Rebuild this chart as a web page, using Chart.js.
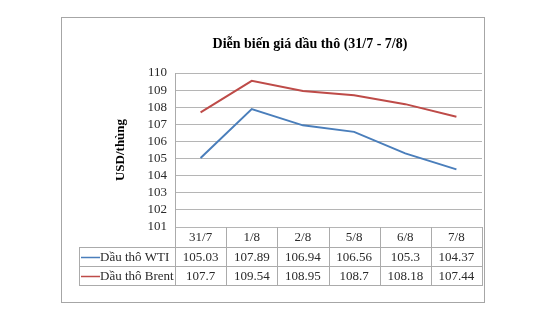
<!DOCTYPE html>
<html>
<head>
<meta charset="utf-8">
<script src="https://cdn.jsdelivr.net/npm/chart.js@4/dist/chart.umd.min.js"></script>
<style>
  html, body { margin: 0; padding: 0; background: #ffffff; }
  canvas { display: block; }
</style>
</head>
<body>
<canvas id="c" width="540" height="335"></canvas>
<script>
const chartTitle = 'Diễn biến giá dầu thô (31/7 - 7/8)';
const yAxisTitle = 'USD/thùng';
const categories = ['31/7', '1/8', '2/8', '5/8', '6/8', '7/8'];
const seriesNames = ['Dầu thô WTI', 'Dầu thô Brent'];
const wtiValues = [105.03, 107.89, 106.94, 106.56, 105.3, 104.37];
const brentValues = [107.7, 109.54, 108.95, 108.7, 108.18, 107.44];
const yMin = 101;
const yMax = 110;
const yStep = 1;

const seriesColors = ['#4A7EBB', '#BE4B48'];
const seriesValues = [wtiValues, brentValues];
const FONT = '"Liberation Serif", "Times New Roman", serif';
const lineGray = '#ababab';
const textColor = '#2a2a2a';

const tablePlugin = {
  id: 'tablePlugin',
  beforeDraw(chart) {
    const ctx = chart.ctx;
    ctx.save();
    ctx.fillStyle = '#ffffff';
    ctx.fillRect(0, 0, chart.width, chart.height);
    ctx.restore();
  },
  afterDraw(chart) {
    const ctx = chart.ctx;
    const area = chart.chartArea;
    const xs = chart.scales.x;
    const n = categories.length;
    const colW = (area.right - area.left) / n;
    const headerTop = area.bottom;
    const rowH = [20, 19, 19];
    const row1Top = headerTop + rowH[0];
    const row2Top = row1Top + rowH[1];
    const tableBottom = row2Top + rowH[2];
    const legendLeft = 79;

    ctx.save();
    // outer border
    ctx.strokeStyle = '#a6a6a6';
    ctx.lineWidth = 1;
    ctx.strokeRect(61.5, 17.5, 423, 285);

    // title
    ctx.fillStyle = '#000000';
    ctx.font = 'bold 14px ' + FONT;
    ctx.textAlign = 'center';
    ctx.textBaseline = 'middle';
    ctx.fillText(chartTitle, 310, 44);

    // table lines
    ctx.strokeStyle = lineGray;
    ctx.lineWidth = 1;
    const hl = (x1, x2, y) => { ctx.beginPath(); ctx.moveTo(x1, Math.round(y) + 0.5); ctx.lineTo(x2, Math.round(y) + 0.5); ctx.stroke(); };
    const vl = (x, y1, y2) => { ctx.beginPath(); ctx.moveTo(Math.round(x) + 0.5, y1); ctx.lineTo(Math.round(x) + 0.5, y2); ctx.stroke(); };
    hl(legendLeft, area.right, row1Top);
    hl(legendLeft, area.right, row2Top);
    hl(legendLeft, area.right, tableBottom);
    vl(legendLeft, row1Top, tableBottom + 1);
    for (let i = 0; i <= n; i++) {
      vl(area.left + i * colW, headerTop, tableBottom + 1);
    }

    // header labels
    ctx.fillStyle = textColor;
    ctx.font = '13px ' + FONT;
    ctx.textAlign = 'center';
    ctx.textBaseline = 'middle';
    categories.forEach((c, i) => {
      ctx.fillText(c, xs.getPixelForValue(i), headerTop + rowH[0] / 2 + 1);
    });

    // series rows
    const rowTops = [row1Top, row2Top];
    seriesValues.forEach((vals, s) => {
      const cy = rowTops[s] + rowH[s + 1] / 2 + 1;
      ctx.strokeStyle = seriesColors[s];
      ctx.lineWidth = 1.5;
      ctx.beginPath();
      ctx.moveTo(81, Math.round(cy) - 0.5);
      ctx.lineTo(100, Math.round(cy) - 0.5);
      ctx.stroke();
      ctx.fillStyle = textColor;
      ctx.textAlign = 'left';
      ctx.fillText(seriesNames[s], 100, cy);
      ctx.textAlign = 'center';
      vals.forEach((v, i) => {
        ctx.fillText(String(v), xs.getPixelForValue(i), cy);
      });
    });
    ctx.restore();
  }
};

new Chart(document.getElementById('c'), {
  type: 'line',
  data: {
    labels: categories,
    datasets: seriesNames.map((name, s) => ({
      label: name,
      data: seriesValues[s],
      borderColor: seriesColors[s],
      backgroundColor: seriesColors[s],
      borderWidth: 2,
      pointRadius: 0,
      pointHoverRadius: 0,
      tension: 0,
      fill: false
    }))
  },
  options: {
    responsive: false,
    animation: false,
    devicePixelRatio: 1,
    layout: { padding: { left: 62, right: 58, top: 73, bottom: 108 } },
    plugins: {
      legend: { display: false },
      title: { display: false },
      tooltip: { enabled: false }
    },
    scales: {
      x: {
        type: 'category',
        display: false,
        offset: true
      },
      y: {
        min: yMin,
        max: yMax,
        afterFit(scale) { scale.width = 113; },
        ticks: {
          stepSize: yStep,
          autoSkip: false,
          padding: 8,
          color: textColor,
          font: { family: FONT, size: 13 }
        },
        grid: {
          color: '#b5b5b5',
          lineWidth: 1,
          drawTicks: false
        },
        border: { display: true, color: lineGray, width: 1 },
        title: {
          display: true,
          text: yAxisTitle,
          color: '#000000',
          font: { family: FONT, size: 13, weight: 'bold' },
          padding: { top: 51, bottom: 0 }
        }
      }
    }
  },
  plugins: [tablePlugin]
});
</script>
</body>
</html>
